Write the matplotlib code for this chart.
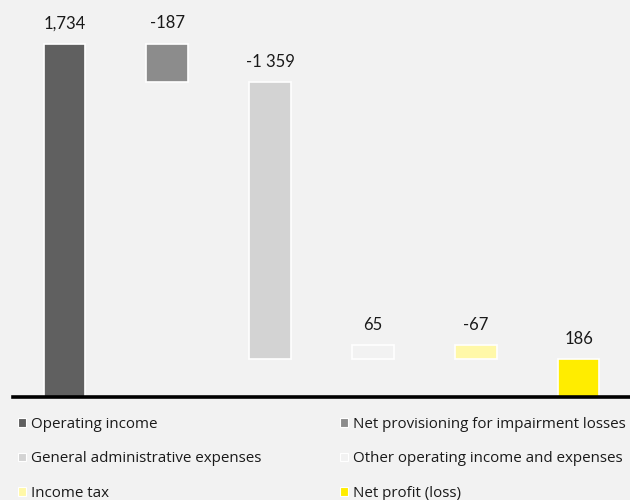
import matplotlib
matplotlib.use("Agg")
import matplotlib.pyplot as plt
from matplotlib.patches import Patch

categories = ["Operating income", "Net provisioning for impairment losses",
              "General administrative expenses", "Other operating income and expenses",
              "Income tax", "Net profit (loss)"]
values = [1734, -187, -1359, 65, -67, 186]
labels = ["1,734", "-187", "-1 359", "65", "-67", "186"]
colors = ["#606060", "#8C8C8C", "#D3D3D3", "#F2F2F2", "#FFF8A8", "#FFED00"]
is_total = [True, False, False, False, False, True]

plt.rcParams["font.family"] = ["Lato", "DejaVu Sans"]
bg = "#F2F2F2"

fig = plt.figure(figsize=(6.3, 5.0), dpi=100, facecolor=bg)
ax = fig.add_axes([13 / 630, 1 - 397 / 500, 1 - 13 / 630, 397 / 500])
ax.set_facecolor(bg)

running = 0.0
for i, (v, c, lab, tot) in enumerate(zip(values, colors, labels, is_total)):
    if tot:
        bottom, height = 0.0, v
        running = v
    else:
        start = running
        running = running + v
        bottom, height = min(start, running), abs(v)
    ax.bar(i, height, bottom=bottom, width=0.405, color=c,
           edgecolor="white", linewidth=1.2, zorder=2)
    ax.annotate(lab, (i, bottom + height), xytext=(0, 9), textcoords="offset points",
                ha="center", va="bottom", fontsize=12, color="#1a1a1a")

ax.set_xlim(-0.5, 5.5)
ax.set_ylim(0, 1950)
for s in ["top", "left", "right"]:
    ax.spines[s].set_visible(False)
ax.spines["bottom"].set_linewidth(2.6)
ax.spines["bottom"].set_color("black")
ax.spines["bottom"].set_zorder(3)
ax.set_xticks([])
ax.set_yticks([])

handles = [Patch(facecolor=c, edgecolor="white", linewidth=0.8) for c in colors]
columns = [([0, 2, 4], 18 / 630), ([1, 3, 5], 340 / 630)]
for idx, x0 in columns:
    leg = fig.legend([handles[k] for k in idx], [categories[k] for k in idx],
                     ncol=1, loc="upper left", bbox_to_anchor=(x0, 1 - 417 / 500),
                     frameon=False, handlelength=0.5, handleheight=0.5,
                     handletextpad=0.35, labelspacing=1.28,
                     borderaxespad=0, borderpad=0,
                     prop={"family": ["Open Sans", "DejaVu Sans"], "size": 10.9})
    for t in leg.get_texts():
        t.set_color("#1a1a1a")

fig.savefig("out.png", dpi=100, facecolor=bg)
